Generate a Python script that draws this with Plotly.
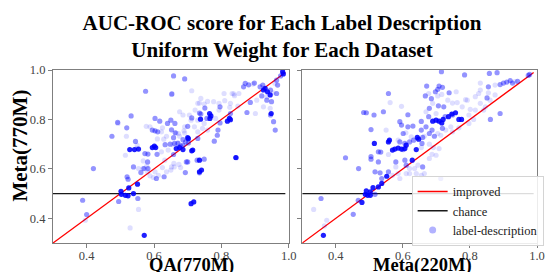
import plotly.graph_objects as go

# ---------------- data ----------------
# Left panel: x = QA(770M), y = Meta(770M)
left_dark = [(0.528,0.678),(0.542,0.678),(0.554,0.680),(0.595,0.686),(0.601,0.692),(0.605,0.686),
             (0.666,0.682),(0.676,0.686),(0.686,0.678),(0.503,0.497),(0.515,0.493),(0.525,0.523),
             (0.539,0.500),(0.523,0.491),(0.551,0.538),(0.502,0.509),(0.571,0.331),(0.710,0.459),
             (0.718,0.466),(0.712,0.673),(0.715,0.676),(0.700,0.726),(0.702,0.722),(0.735,0.635),
             (0.741,0.595),(0.735,0.588),(0.765,0.824),(0.769,0.814),(0.766,0.804),(0.738,0.801),
             (0.818,0.793),(0.824,0.804),(0.827,0.799),(0.843,0.646),(0.925,0.919),(0.930,0.926),
             (0.937,0.912),(0.945,0.899),(0.948,0.824),(0.984,0.984),(0.982,0.993)]
left_mid = [(0.658,0.976),(0.691,0.964),(0.532,0.814),(0.492,0.788),(0.519,0.766),(0.545,0.711),
            (0.420,0.601),(0.400,0.415),(0.388,0.473),(0.573,0.662),(0.539,0.608),(0.520,0.568),
            (0.523,0.558),(0.495,0.468),(0.552,0.480),(0.581,0.628),(0.570,0.601),(0.582,0.601),
            (0.561,0.585),(0.607,0.561),(0.730,0.723),(0.735,0.584),(0.749,0.639),(0.696,0.628),
            (0.728,0.635),(0.844,0.645),(0.757,0.804),(0.739,0.822),(0.779,0.712),(0.788,0.736),
            (0.790,0.757),(0.796,0.851),(0.876,0.828),(0.871,0.946),(0.866,0.932),(0.886,0.869),
            (0.915,0.932),(0.923,0.939),(0.935,0.878),(0.949,0.872),(0.955,0.791),(0.960,0.757),
            (0.967,0.939),(0.964,0.959),(0.976,0.976),(0.964,0.905),(0.946,0.818),(0.920,0.895),
            (0.946,0.919),(0.603,0.804),(0.617,0.793),(0.595,0.757),(0.603,0.754),(0.611,0.750),
            (0.640,0.784),(0.650,0.797),(0.658,0.726),(0.663,0.746),(0.662,0.784),(0.671,0.703),
            (0.679,0.692),(0.686,0.696),(0.694,0.709),(0.702,0.705),(0.661,0.703),(0.658,0.658),
            (0.609,0.659),(0.630,0.568),(0.700,0.628),(0.693,0.585),(0.827,0.824),(0.796,0.786),
            (0.575,0.914),(0.475,0.732),(0.582,0.660),(0.633,0.698),(0.648,0.700),(0.653,0.903),
            (0.700,0.772),(0.712,0.806),(0.735,0.826),(0.751,0.846),(0.881,0.940),(0.898,0.947),
            (0.686,0.718),(0.652,0.758)]
left_faint = [(0.652,0.901),(0.712,0.916),(0.493,0.784),(0.518,0.732),(0.550,0.695),(0.396,0.392),
              (0.515,0.655),(0.554,0.601),(0.567,0.601),(0.578,0.611),(0.554,0.436),(0.529,0.361),
              (0.759,0.757),(0.901,0.824),(0.894,0.943),(0.852,0.905),(0.959,0.946),(0.945,0.845),
              (0.925,0.851),(0.905,0.878),(0.935,0.892),(0.954,0.908),(0.625,0.766),(0.588,0.770),
              (0.622,0.750),(0.629,0.720),(0.637,0.732),(0.673,0.743),(0.689,0.754),(0.642,0.676),
              (0.622,0.669),(0.632,0.635),(0.625,0.605),(0.650,0.595),(0.637,0.588),(0.613,0.574),
              (0.603,0.588),(0.588,0.572),(0.568,0.632),(0.581,0.588),(0.598,0.565),(0.679,0.605),
              (0.674,0.618),(0.659,0.622),(0.691,0.770),(0.705,0.818),(0.722,0.838),(0.730,0.865),
              (0.739,0.885),(0.749,0.862),(0.777,0.872),(0.793,0.865),(0.810,0.876),(0.827,0.865),
              (0.839,0.896),(0.808,0.905),(0.832,0.905),(0.849,0.854),(0.825,0.849),(0.783,0.804),
              (0.793,0.838),(0.720,0.770),(0.730,0.750),(0.744,0.764),(0.749,0.784),(0.710,0.797),
              (0.686,0.818),(0.676,0.831),(0.730,0.797),(0.652,0.608),(0.660,0.608),(0.610,0.721),
              (0.577,0.772),(0.548,0.682),(0.666,0.745),(0.676,0.732),(0.656,0.698),(0.671,0.705),
              (0.691,0.745),(0.759,0.873),(0.735,0.866),(0.837,0.903)]

# Right panel: x = Meta(220M), y = Meta(770M)
right_dark = [(0.689,0.793),(0.699,0.797),(0.708,0.793),(0.716,0.786),(0.720,0.800),(0.736,0.811),
              (0.746,0.822),(0.757,0.827),(0.767,0.800),(0.775,0.800),(0.643,0.727),(0.647,0.720),
              (0.640,0.678),(0.610,0.696),(0.606,0.682),(0.596,0.680),(0.586,0.684),(0.576,0.680),
              (0.569,0.676),(0.560,0.716),(0.557,0.709),(0.515,0.703),(0.552,0.570),(0.628,0.635),
              (0.537,0.541),(0.527,0.527),(0.511,0.524),(0.503,0.507),(0.491,0.511),(0.488,0.497),
              (0.495,0.493),(0.503,0.493),(0.478,0.464),(0.363,0.331)]
right_mid = [(0.715,0.993),(0.784,0.980),(0.858,0.986),(0.881,0.989),(0.671,0.935),(0.708,0.935),
             (0.718,0.930),(0.704,0.922),(0.697,0.912),(0.557,0.905),(0.667,0.895),(0.685,0.884),
             (0.738,0.908),(0.679,0.845),(0.706,0.855),(0.722,0.851),(0.677,0.811),(0.726,0.811),
             (0.748,0.818),(0.718,0.764),(0.694,0.732),(0.679,0.743),(0.659,0.727),(0.632,0.716),
             (0.620,0.709),(0.606,0.703),(0.591,0.709),(0.601,0.743),(0.591,0.791),(0.596,0.777),
             (0.615,0.770),(0.630,0.773),(0.655,0.757),(0.669,0.770),(0.687,0.757),(0.657,0.703),
             (0.601,0.678),(0.505,0.759),(0.514,0.818),(0.542,0.831),(0.483,0.828),(0.491,0.827),
             (0.527,0.669),(0.527,0.628),(0.505,0.639),(0.468,0.601),(0.429,0.645),(0.517,0.588),
             (0.532,0.584),(0.537,0.561),(0.557,0.588),(0.579,0.628),(0.606,0.635),(0.610,0.615),
             (0.659,0.608),(0.713,0.561),(0.517,0.497),(0.467,0.473),(0.452,0.416),(0.356,0.480),
             (0.855,0.932),(0.890,0.941),(0.900,0.947),(0.910,0.951),(0.920,0.957),(0.927,0.947),
             (0.942,0.954),(0.974,0.978),(0.978,0.982),(0.851,0.887),(0.861,0.800),(0.890,0.824),
             (0.615,0.819),(0.655,0.792),(0.505,0.650),(0.534,0.668)]
right_faint = [(0.677,0.905),(0.562,0.868),(0.689,0.865),(0.704,0.895),(0.716,0.901),(0.759,0.912),
               (0.734,0.878),(0.762,0.868),(0.699,0.824),(0.669,0.831),(0.743,0.770),(0.748,0.750),
               (0.728,0.757),(0.767,0.766),(0.704,0.743),(0.713,0.736),(0.586,0.716),(0.625,0.730),
               (0.609,0.746),(0.664,0.732),(0.550,0.757),(0.557,0.658),(0.579,0.608),(0.620,0.601),
               (0.635,0.601),(0.645,0.615),(0.664,0.581),(0.655,0.574),(0.640,0.581),(0.620,0.581),
               (0.610,0.581),(0.586,0.581),(0.569,0.574),(0.591,0.561),(0.679,0.642),(0.687,0.659),
               (0.699,0.655),(0.708,0.682),(0.691,0.686),(0.679,0.700),(0.655,0.686),(0.334,0.436),
               (0.373,0.392),(0.366,0.369),(0.792,0.878),(0.816,0.892),(0.826,0.905),(0.831,0.919),
               (0.875,0.939),(0.934,0.953),(0.831,0.865),(0.846,0.851),(0.860,0.878),(0.855,0.908),
               (0.841,0.838),(0.816,0.838),(0.801,0.841),(0.797,0.818),(0.777,0.851),(0.811,0.800),
               (0.875,0.899),(0.797,0.784),(0.831,0.947),(0.787,0.880),(0.748,0.866),(0.596,0.853)]

line_range = [0.3, 0.99]   # extent of the reference lines
chance_level = 0.5
tick_values = [0.4, 0.6, 0.8, 1.0]
axis_range = [0.3, 1.0]

SERIF = "Liberation Serif"
BLUE = "rgb(0,0,255)"
FRAME = "#7f7f7f"

fig = go.Figure()

panels = [("x", "y", left_dark, left_mid, left_faint, True),
          ("x2", "y2", right_dark, right_mid, right_faint, False)]

for xa, ya, dark, mid, faint, first in panels:
    fig.add_trace(go.Scatter(x=line_range, y=line_range, mode="lines", name="improved",
                             line=dict(color="red", width=1.3), xaxis=xa, yaxis=ya,
                             showlegend=not first))
    fig.add_trace(go.Scatter(x=line_range, y=[chance_level, chance_level], mode="lines",
                             name="chance", line=dict(color="#1a1a1a", width=1.3),
                             xaxis=xa, yaxis=ya, showlegend=not first))
    for group, op in ((faint, 0.13), (mid, 0.42), (dark, 0.88)):
        fig.add_trace(go.Scatter(x=[p[0] for p in group], y=[p[1] for p in group],
                                 mode="markers", xaxis=xa, yaxis=ya, showlegend=False,
                                 marker=dict(color=BLUE, size=5.2, opacity=op, line=dict(width=0))))

# legend entry for the points
fig.add_trace(go.Scatter(x=[None], y=[None], mode="markers", name="label-description",
                         xaxis="x2", yaxis="y2",
                         marker=dict(color=BLUE, size=7, opacity=0.3, line=dict(width=0))))

axis_common = dict(range=axis_range, tickvals=tick_values, tickformat=".1f", ticks="outside",
                   ticklen=4, tickcolor=FRAME, tickwidth=1, showline=True, linecolor=FRAME,
                   linewidth=1.2, mirror=True, showgrid=False, zeroline=False,
                   tickfont=dict(family=SERIF, size=12.5, color="#444"))

fig.update_layout(
    width=548, height=272,
    margin=dict(l=53, r=4, t=70, b=29),
    paper_bgcolor="white", plot_bgcolor="white",
    title=dict(text="<b>AUC-ROC score for Each Label Description<br>Uniform Weight for Each Dataset</b>",
               x=282/548, xref="container", xanchor="center",
               y=0.89, yref="container", yanchor="top",
               font=dict(family=SERIF, size=21, color="black")),
    xaxis=dict(domain=[0, 0.487], anchor="y", ticklabelstandoff=-3, **axis_common),
    yaxis=dict(domain=[0, 1], anchor="x", **axis_common),
    xaxis2=dict(domain=[0.515, 1], anchor="y2", ticklabelstandoff=-3, **axis_common),
    yaxis2=dict(domain=[0, 1], anchor="x2", showticklabels=False, **axis_common),
    legend=dict(x=0.741, y=0.388, xanchor="left", yanchor="top",
                bgcolor="rgba(255,255,255,0.85)", bordercolor="#d4d4d4", borderwidth=1,
                font=dict(family=SERIF, size=12.5, color="#222"), itemwidth=30),
    showlegend=True,
    annotations=[
        dict(text="<b>Meta(770M)</b>", xref="paper", yref="paper", x=-0.069, y=0.561,
             textangle=-90, showarrow=False, xanchor="center", yanchor="middle",
             font=dict(family=SERIF, size=21, color="black")),
        dict(text="<b>QA(770M)</b>", xref="paper", yref="paper", x=0.287, y=-0.13,
             showarrow=False, xanchor="center", yanchor="middle",
             font=dict(family=SERIF, size=18.5, color="black")),
        dict(text="<b>Meta(220M)</b>", xref="paper", yref="paper", x=0.763, y=-0.13,
             showarrow=False, xanchor="center", yanchor="middle",
             font=dict(family=SERIF, size=18.5, color="black")),
    ],
)

fig.write_html("out.html", config={"displayModeBar": False},
               post_script="document.body.style.margin='0';")
